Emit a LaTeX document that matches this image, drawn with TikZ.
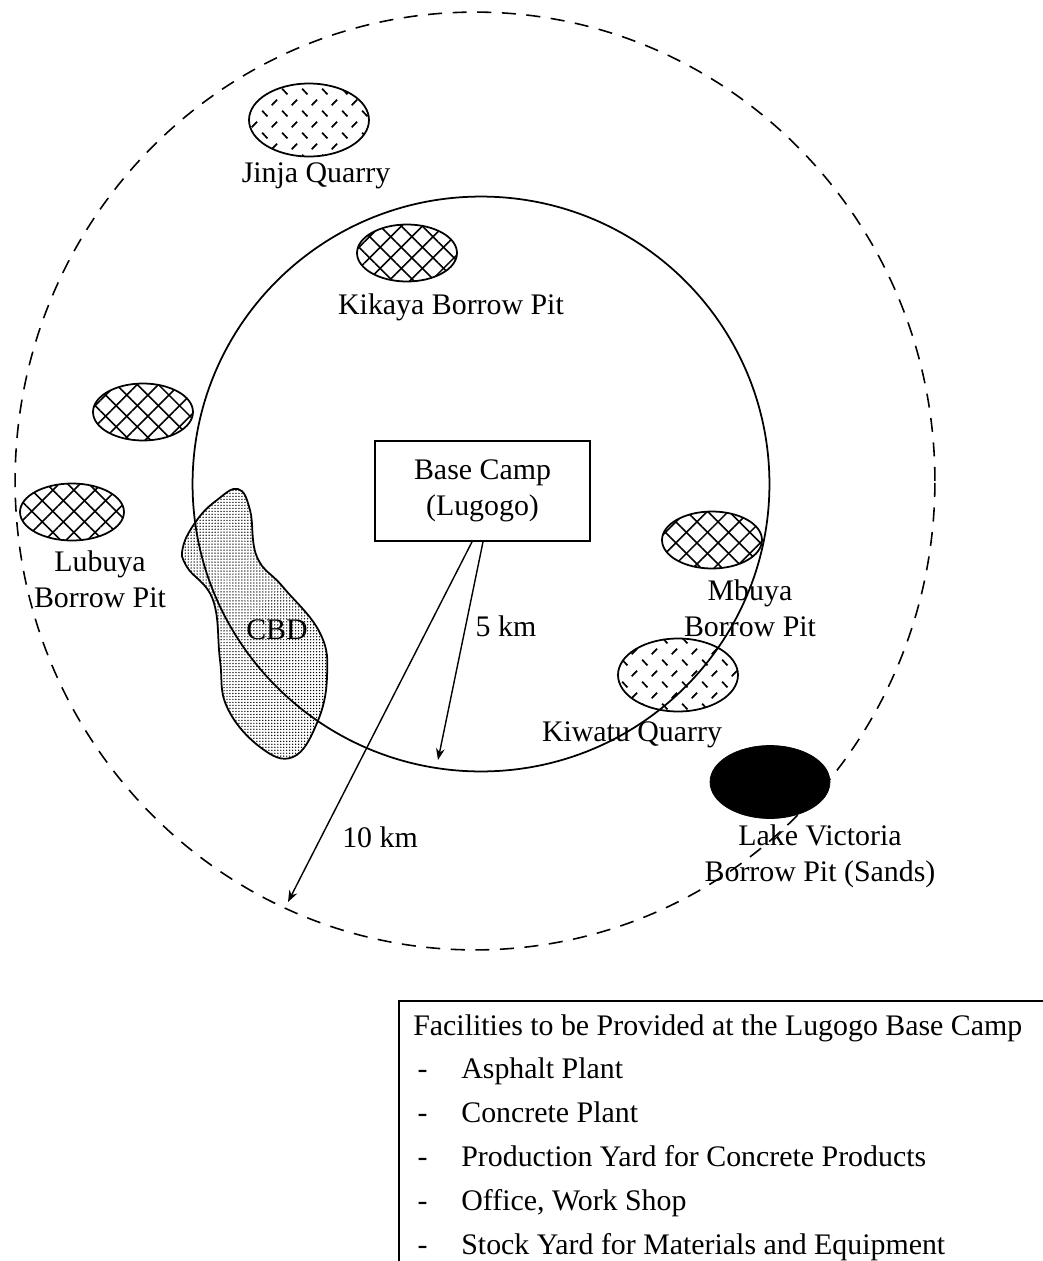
\documentclass[tikz,border=0pt]{standalone}
\usepackage{fontspec}
\setmainfont{Liberation Serif}
\usepackage{tikz}
\usetikzlibrary{arrows.meta, shapes.geometric, positioning, patterns.meta}
\pgfdeclarepatternformonly{quarrydash}{\pgfpointorigin}{\pgfqpoint{11.4pt}{12.5pt}}{\pgfqpoint{11.4pt}{12.5pt}}{
  \pgfsetlinewidth{1pt}
  \pgfpathmoveto{\pgfqpoint{1.25pt}{4.7pt}}\pgfpathlineto{\pgfqpoint{4.45pt}{1.5pt}}
  \pgfpathmoveto{\pgfqpoint{6.95pt}{7.8pt}}\pgfpathlineto{\pgfqpoint{10.15pt}{11pt}}
  \pgfusepath{stroke}
}
\tikzset{
  pitmark/.style={ellipse, draw, line width=1pt, inner sep=0pt, minimum width=2cm, minimum height=1.14cm,
    preaction={pattern={Lines[angle=45, distance=8.5pt, line width=0.9pt]}},
    pattern={Lines[angle=-45, distance=8.5pt, line width=0.9pt]}},
  quarrymark/.style={ellipse, draw, line width=1pt, inner sep=0pt, minimum width=2.4cm, minimum height=1.46cm,
    pattern=quarrydash},
  placelabel/.style={align=center, inner sep=0pt},
  listline/.style={inner sep=0pt, text height=0.5cm, text depth=0.14cm, anchor=west},
}
\begin{document}
\begin{tikzpicture}[x=0.02cm, y=-0.02cm, >=Stealth,
    font=\fontsize{17}{20.5}\selectfont, node distance=0.2cm]
      \useasboundingbox (0,0) rectangle (1043,1261);

      % central business district
      \path[draw, line width=1pt, fill=gray!15, pattern={Dots[distance=1.7pt, radius=0.42pt]}]
            plot[smooth cycle, tension=0.7] coordinates {(238,489) (250,510) (257,557) (283,587) (320,633)
              (327,677) (317,723) (293,757) (260,747) (227,707) (220,660) (213,600)
              (187,567) (183,547) (197,520) (217,500)};

      % source sites
      \node[quarrymark] (jinja) at (309,120) {};
      \node[pitmark] (kikaya) at (407,253) {};
      \node[pitmark] (nameless) at (143,412) {};
      \node[pitmark, minimum width=2.08cm] (lubuya) at (72,512) {};
      \node[pitmark] (mbuya) at (712,540) {};
      \node[quarrymark] (kiwatu) at (678,675) {};
      \node[ellipse, fill=black, draw, inner sep=0pt, minimum width=2.4cm, minimum height=1.46cm]
            (lake) at (770,782) {};

      % 5 km and 10 km limits
      \node[ellipse, draw, dash pattern=on 8pt off 6pt, line width=0.9pt, inner sep=0pt, minimum width=18.4cm, minimum height=18.76cm]
            (outer) at (475,481) {};
      \node[ellipse, draw, line width=1pt, inner sep=0pt, minimum width=11.54cm, minimum height=11.5cm]
            (inner) at (481,484) {};

      \node[placelabel, below=0.1cm of jinja, xshift=0.14cm] (jinjatxt) {Jinja Quarry};
      \node[placelabel, below=0.22cm of kikaya, xshift=0.88cm] (kikayatxt) {Kikaya Borrow Pit};
      \node[placelabel, below=0.18cm of lubuya, xshift=0.56cm] (lubuyatxt) {Lubuya\\Borrow Pit};
      \node[placelabel, below=0.2cm of mbuya, xshift=0.76cm] (mbuyatxt) {Mbuya\\Borrow Pit};
      \node[placelabel, below=0.18cm of kiwatu, xshift=-0.92cm] (kiwatutxt) {Kiwatu Quarry};
      \node[placelabel, below=0.12cm of lake, xshift=1cm] (laketxt) {Lake Victoria\\Borrow Pit (Sands)};
      \node[inner sep=0pt] (cbd) at (277,630) {CBD};

      \node[draw, line width=1pt, align=center, minimum width=4.3cm, minimum height=2cm, inner sep=0pt]
            (camp) at (482.5,491) {Base Camp\\[0pt](Lugogo)};
      \coordinate (tenend) at (288,902);
      \coordinate (fiveend) at (438,760);
      \draw[->, line width=0.8pt] (camp.south -| 472,0) -- (tenend);
      \draw[->, line width=0.8pt] (camp.south -| 483,0) -- (fiveend);
      \node[inner sep=0pt] (fivetxt) at (506,626) {5 km};
      \node[inner sep=0pt] (tentxt) at (380,837) {10 km};

      % facilities list
      \coordinate (boxtl) at (399,1001);
      \coordinate (boxtr) at (1043,1001);
      \coordinate (boxbl) at (399,1261);
      \draw[line width=1pt] (boxbl) -- (boxtl) -- (boxtr);
      \node[listline] (fac) at (413,1026) {Facilities to be Provided at the Lugogo Base Camp};
      \node[listline] (asphalt) at (461,1069) {Asphalt Plant};
      \node[listline, below=0.228cm of asphalt.south west, anchor=north west] (concrete) {Concrete Plant};
      \node[listline, below=0.228cm of concrete.south west, anchor=north west] (yard) {Production Yard for Concrete Products};
      \node[listline, below=0.228cm of yard.south west, anchor=north west] (office) {Office, Work Shop};
      \node[listline, below=0.228cm of office.south west, anchor=north west] (stock) {Stock Yard for Materials and Equipment};
      \node[listline, left=0.66cm of asphalt] (d1) {-};
      \node[listline, left=0.66cm of concrete] (d2) {-};
      \node[listline, left=0.66cm of yard] (d3) {-};
      \node[listline, left=0.66cm of office] (d4) {-};
      \node[listline, left=0.66cm of stock] (d5) {-};
    \end{tikzpicture}
\end{document}
